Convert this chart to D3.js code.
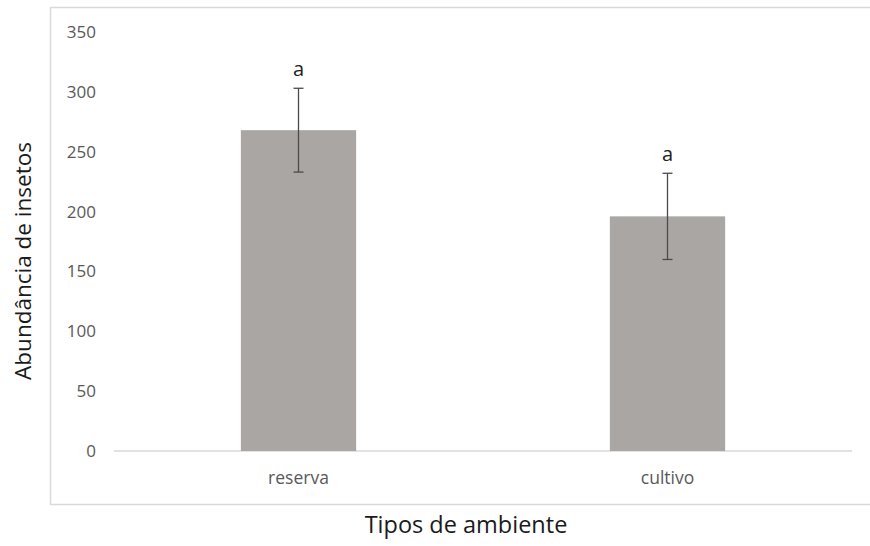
<!DOCTYPE html>
<html>
<head>
<meta charset="utf-8">
<script src="https://cdn.jsdelivr.net/npm/d3@7"></script>
<style>
  body { margin: 0; background: #fff; }
  svg text { font-family: "Open Sans", "Noto Sans", sans-serif; }
</style>
</head>
<body>
<svg id="chart" width="870" height="546"></svg>
<script>
// data
const categories = ['reserva', 'cultivo'];
const means = [268, 196];
const errors = [35, 36];
const letters = ['a', 'a'];
const yTicks = [0, 50, 100, 150, 200, 250, 300, 350];

const svg = d3.select('#chart');
const margin = { left: 114, right: 18, top: 32, bottom: 95 };
const width = 870 - margin.left - margin.right;
const height = 546 - margin.top - margin.bottom;

// outer chart frame (cut at the right edge, like the source)
svg.append('rect')
    .attr('x', 50.5)
    .attr('y', 7.5)
    .attr('width', 840)
    .attr('height', 497)
    .attr('fill', 'none')
    .attr('stroke', '#d9d9d9')
    .attr('stroke-width', 1.5);

const g = svg.append('g').attr('transform', `translate(${ margin.left }, ${ margin.top })`);

const x = d3.scaleBand().domain(categories).range([0, width]).paddingInner(0.6876).paddingOuter(0.3438);
const y = d3.scaleLinear().domain([0, 350]).range([height, 0]);

// y tick labels (no axis line)
const yAxis = g.append('g').call(d3.axisLeft(y).tickValues(yTicks).tickSize(0).tickPadding(18));
yAxis.select('.domain').remove();
yAxis.selectAll('text')
    .style('font-size', '17px')
    .style('fill', '#595959');

// baseline
g.append('line')
    .attr('x1', 0)
    .attr('x2', width)
    .attr('y1', y(0))
    .attr('y2', y(0))
    .attr('stroke', '#d9d9d9')
    .attr('stroke-width', 1.5);

// bars
g.selectAll('.bar')
    .data(categories)
    .enter()
    .append('rect')
    .attr('class', 'bar')
    .attr('x', (d) => x(d))
    .attr('y', (d, i) => y(means[i]))
    .attr('width', x.bandwidth())
    .attr('height', (d, i) => y(0) - y(means[i]))
    .attr('fill', '#aaa6a4');

// error bars
const err = g.selectAll('.err')
    .data(categories)
    .enter()
    .append('g')
    .attr('class', 'err')
    .attr('transform', (d) => `translate(${ x(d) + x.bandwidth() / 2 }, 0)`);
err.append('line')
    .attr('y1', (d, i) => y(means[i] + errors[i]))
    .attr('y2', (d, i) => y(means[i] - errors[i]))
    .attr('stroke', '#4a4a4a')
    .attr('stroke-width', 1.3);
[1, -1].forEach((s) => {
    err.append('line')
        .attr('x1', -5)
        .attr('x2', 5)
        .attr('y1', (d, i) => y(means[i] + s * errors[i]))
        .attr('y2', (d, i) => y(means[i] + s * errors[i]))
        .attr('stroke', '#4a4a4a')
        .attr('stroke-width', 1.3);
});

// significance letters
g.selectAll('.letter')
    .data(categories)
    .enter()
    .append('text')
    .attr('class', 'letter')
    .attr('x', (d) => x(d) + x.bandwidth() / 2)
    .attr('y', (d, i) => y(means[i] + errors[i]) - 12)
    .attr('text-anchor', 'middle')
    .style('font-size', '20px')
    .style('fill', '#222')
    .text((d, i) => letters[i]);

// category labels
g.selectAll('.cat')
    .data(categories)
    .enter()
    .append('text')
    .attr('class', 'cat')
    .attr('x', (d) => x(d) + x.bandwidth() / 2)
    .attr('y', y(0) + 33)
    .attr('text-anchor', 'middle')
    .style('font-size', '17.5px')
    .style('fill', '#595959')
    .text((d) => d);

// axis titles
svg.append('text')
    .attr('transform', 'translate(31, 261) rotate(-90)')
    .attr('text-anchor', 'middle')
    .style('font-size', '22.5px')
    .style('fill', '#1a1a1a')
    .text('Abundância de insetos');

svg.append('text')
    .attr('x', 466)
    .attr('y', 533)
    .attr('text-anchor', 'middle')
    .style('font-size', '23.5px')
    .style('fill', '#1a1a1a')
    .text('Tipos de ambiente');
</script>
</body>
</html>
